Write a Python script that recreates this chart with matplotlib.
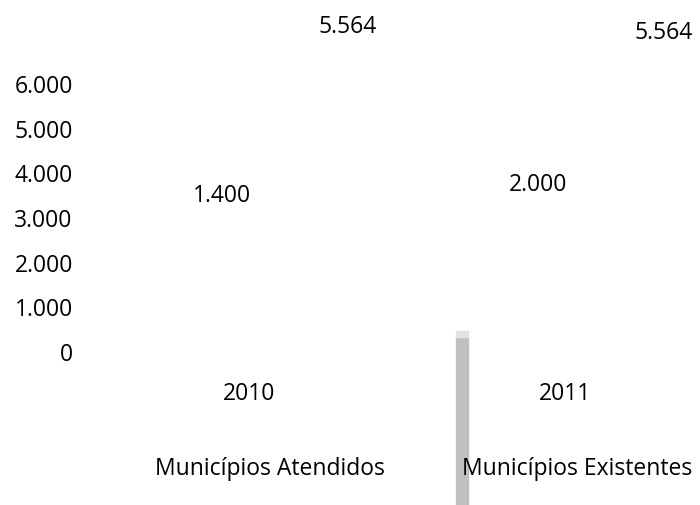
import matplotlib
matplotlib.use('Agg')
import matplotlib.pyplot as plt
from matplotlib.patches import Rectangle
import numpy as np

plt.rcParams['font.family'] = 'Open Sans'
FS = 16.5

years = ['2010', '2011']
atendidos = [1400, 2000]
existentes = [5564, 5564]
series_names = ['Municípios Atendidos', 'Municípios Existentes']
y_ticks = [0, 1000, 2000, 3000, 4000, 5000, 6000]
y_tick_labels = ['0', '1.000', '2.000', '3.000', '4.000', '5.000', '6.000']


def fmt(v):
    return '{:,}'.format(v).replace(',', '.')


fig = plt.figure(figsize=(7.0, 5.06), dpi=100)
# y=0 sits at pixel 352, 6000 at pixel 84
ax = fig.add_axes([95 / 700, 154 / 506, 605 / 700, 268 / 506])

x = np.arange(len(years))
off_a, off_b = -0.085, 0.313
# the bars themselves don't show up in the original, only their labels
ax.bar(x + off_a, atendidos, width=0.2, color='none')
ax.bar(x + off_b, existentes, width=0.2, color='none')

# how far above the bar top each label floats, in points
lift_a = [67, 56]
lift_b = [55, 51]
for i in range(len(years)):
    ax.annotate(fmt(atendidos[i]), (x[i] + off_a, atendidos[i]),
                xytext=(0, lift_a[i]), textcoords='offset points',
                ha='center', va='center', fontsize=FS, annotation_clip=False)
    ax.annotate(fmt(existentes[i]), (x[i] + off_b, existentes[i]),
                xytext=(0, lift_b[i]), textcoords='offset points',
                ha='center', va='center', fontsize=FS, annotation_clip=False)

ax.set_xlim(-154 / 316, 451 / 316)
ax.set_ylim(0, 6000)
ax.set_yticks(y_ticks)
ax.set_yticklabels(y_tick_labels)
ax.set_xticks(x)
ax.set_xticklabels(years)
ax.tick_params(axis='y', length=0, pad=16, labelsize=FS)
ax.tick_params(axis='x', length=0, pad=21.5, labelsize=FS)
for s in ax.spines.values():
    s.set_visible(False)

# legend area, drawn as in the source
fig.patches.append(Rectangle((456 / 700, 0), 12 / 700, 168 / 506,
                             transform=fig.transFigure, color='#c0c0c0', zorder=0))
fig.patches.append(Rectangle((456 / 700, 168 / 506), 12 / 700, 6 / 506,
                             transform=fig.transFigure, color='#e2e2e2', zorder=0))
fig.text(270 / 700, 1 - 469 / 506, series_names[0], ha='center', va='center', fontsize=FS)
fig.text(462 / 700, 1 - 469 / 506, series_names[1], ha='left', va='center', fontsize=FS)

fig.savefig('out.png', dpi=100)
